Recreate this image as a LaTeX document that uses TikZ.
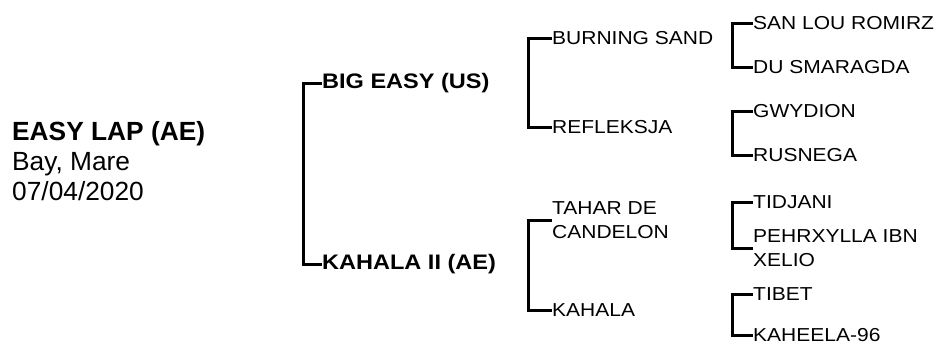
\documentclass[tikz,border=0pt]{standalone}
\usepackage{fontspec}
\setmainfont{Liberation Sans}[FakeStretch=1.12]
\newfontfamily\rootfont{Liberation Sans}
\tikzset{
	horse/.style={anchor=west, inner sep=0pt, align=left, font=\fontsize{18.75}{24}\selectfont},
	parent/.style={anchor=west, inner sep=0pt, font=\fontsize{21}{26}\selectfont\bfseries},
	foal/.style={anchor=west, inner sep=0pt, align=left, font=\rootfont\fontsize{26.3}{30}\selectfont},
	bracket/.style={line width=3pt, line join=miter},
}
\begin{document}
\begin{tikzpicture}[x=1pt,y=-1pt]
	\useasboundingbox (0,0) rectangle (940,341);
	
	\node[foal] (root) at (12,161) {\textbf{EASY LAP (AE)}\\Bay, Mare\\07/04/2020};
	
	\node[parent] (s) at (322,83) {BIG EASY (US)};
	\node[parent] (d) at (322,264) {KAHALA II (AE)};
	
	\node[horse] (ss) at (552,38) {BURNING SAND};
	\node[horse] (sd) at (552,127) {REFLEKSJA};
	\node[horse] (ds) at (552,220) {TAHAR DE\\CANDELON};
	\node[horse] (dd) at (552,310) {KAHALA};
	
	\node[horse] (sss) at (753,23) {SAN LOU ROMIRZ};
	\node[horse] (ssd) at (753,67) {DU SMARAGDA};
	\node[horse] (sds) at (753,111) {GWYDION};
	\node[horse] (sdd) at (753,155) {RUSNEGA};
	\node[horse] (dss) at (753,202) {TIDJANI};
	\node[horse] (dsd) at (753,248) {PEHRXYLLA IBN\\XELIO};
	\node[horse] (dds) at (753,294) {TIBET};
	\node[horse] (ddd) at (753,335) {KAHEELA-96};
	
	\draw[bracket] (s.west) -- ++(-19,0) |- (d.west);
	
	\draw[bracket] (ss.west) -- ++(-24,0) |- (sd.west);
	\draw[bracket] (ds.west) -- ++(-24,0) |- (dd.west);
	
	\draw[bracket] (sss.west) -- ++(-21,0) |- (ssd.west);
	\draw[bracket] (sds.west) -- ++(-21,0) |- (sdd.west);
	\draw[bracket] (dss.west) -- ++(-21,0) |- (dsd.west);
	\draw[bracket] (dds.west) -- ++(-21,0) |- (ddd.west);
\end{tikzpicture}
\end{document}
